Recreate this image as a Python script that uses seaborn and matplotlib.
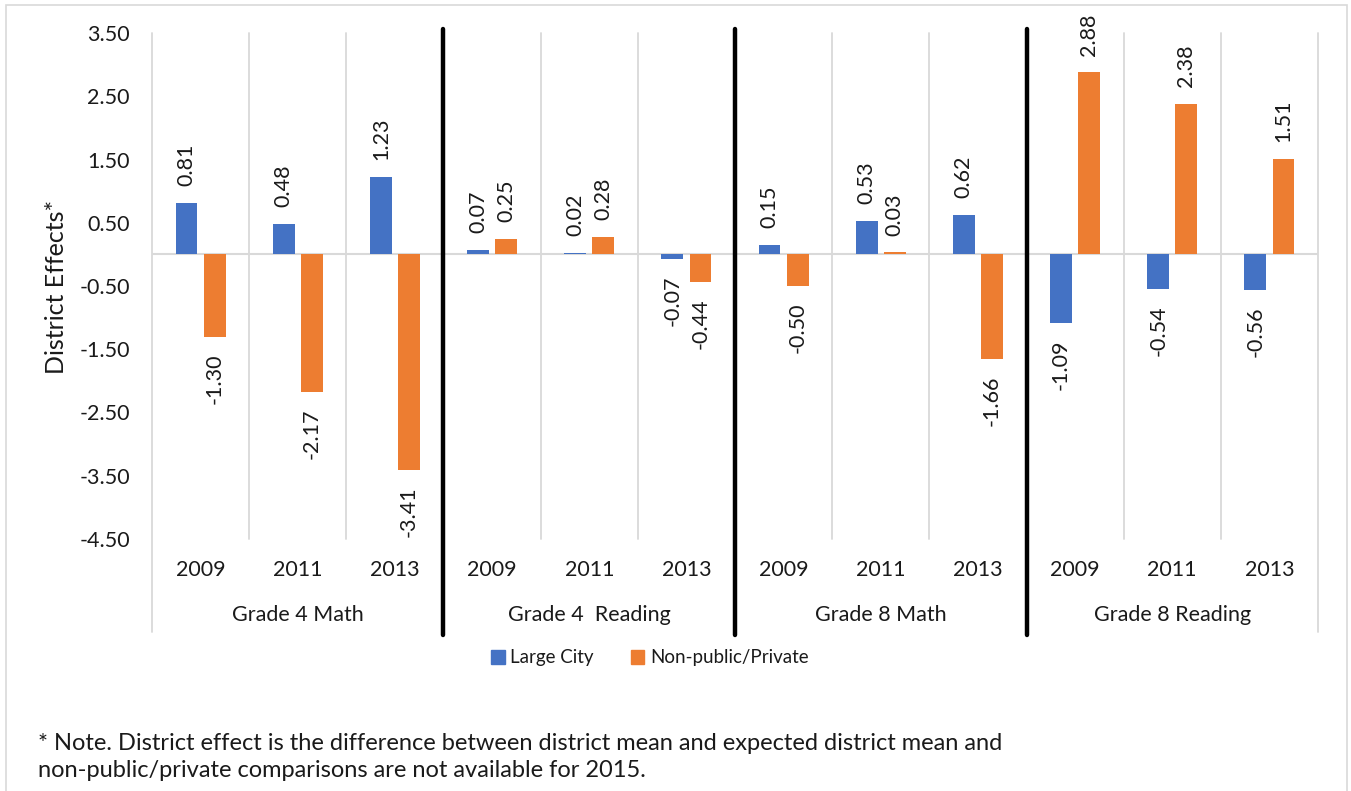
import matplotlib
matplotlib.use("Agg")
import matplotlib.pyplot as plt
import matplotlib.transforms as mtransforms
from matplotlib.patches import Rectangle
import seaborn as sns
import pandas as pd

# ---- data ----
groups = ["Grade 4 Math", "Grade 4  Reading", "Grade 8 Math", "Grade 8 Reading"]
years = ["2009", "2011", "2013"]
series = ["Large City", "Non-public/Private"]
large_city = [0.81, 0.48, 1.23, 0.07, 0.02, -0.07, 0.15, 0.53, 0.62, -1.09, -0.54, -0.56]
non_public = [-1.30, -2.17, -3.41, 0.25, 0.28, -0.44, -0.50, 0.03, -1.66, 2.88, 2.38, 1.51]
y_ticks = [3.5, 2.5, 1.5, 0.5, -0.5, -1.5, -2.5, -3.5, -4.5]
y_label = "District Effects*"
note = ("* Note. District effect is the difference between district mean and expected district mean and\n"
        "non-public/private comparisons are not available for 2015.")

colors = {"Large City": "#4472C4", "Non-public/Private": "#ED7D31"}

keys = [f"{g}|{y}" for g in groups for y in years]
rows = []
for i, k in enumerate(keys):
    rows.append({"cat": k, "series": series[0], "value": large_city[i]})
    rows.append({"cat": k, "series": series[1], "value": non_public[i]})
df = pd.DataFrame(rows)

sns.set_theme(style="white")
plt.rcParams["font.family"] = ["Lato", "DejaVu Sans"]
text_color = "#1a1a1a"
fs = 15.5

W, H = 1351, 791
fig = plt.figure(figsize=(W / 100, H / 100), dpi=100)
ax_l, ax_r, ax_t, ax_b = 152, 1318, 33, 539
ax = fig.add_axes([ax_l / W, 1 - ax_b / H, (ax_r - ax_l) / W, (ax_b - ax_t) / H])

sns.barplot(data=df, x="cat", y="value", hue="series", order=keys, hue_order=series,
            palette=colors, width=0.58, gap=0.22, ax=ax, legend=True, saturation=1,
            edgecolor="none", errorbar=None)

ax.set_xlim(-0.5, len(keys) - 0.5)
ax.set_ylim(-4.5, 3.5)
ax.set_yticks(y_ticks)
ax.set_yticklabels([f"{v:.2f}" for v in y_ticks], fontsize=fs, color=text_color)
ax.tick_params(axis="y", length=0, pad=16)
ax.set_xticks([])
ax.set_xlabel("")
ax.set_ylabel("")
for s in ax.spines.values():
    s.set_visible(False)

grid_c = "#D9D9D9"
trans = mtransforms.blended_transform_factory(ax.transData, ax.transAxes)
low = -(632 - ax_b) / (ax_b - ax_t)
for i in range(len(keys) + 1):
    x = i - 0.5
    y0 = low if i % 3 == 0 else 0
    ax.plot([x, x], [y0, 1], color=grid_c, lw=1.3, transform=trans, clip_on=False, zorder=0)
ax.axhline(0, color=grid_c, lw=1.5, zorder=0.5)

# thick black separators
blow = -(635 - ax_b) / (ax_b - ax_t)
for gi in range(1, len(groups)):
    x = gi * 3 - 0.5
    ax.plot([x, x], [blow, 1.007], color="black", lw=3.2, transform=trans, clip_on=False, zorder=5)

# data labels
for cont in ax.containers:
    ax.bar_label(cont, fmt="%.2f", rotation=90, padding=12, fontsize=fs, color=text_color)

# year and group labels
yr_y = -(570 - ax_b) / (ax_b - ax_t)
gr_y = -(615 - ax_b) / (ax_b - ax_t)
for i, k in enumerate(keys):
    ax.text(i, yr_y, k.split("|")[1], transform=trans, ha="center", va="center",
            fontsize=fs, color=text_color)
for gi, g in enumerate(groups):
    ax.text(gi * 3 + 1, gr_y, g, transform=trans, ha="center", va="center",
            fontsize=fs, color=text_color)

# legend
ax.get_legend().remove()
handles = [Rectangle((0, 0), 1, 1, color=colors[s]) for s in series]
fig.legend(handles, series, loc="center", bbox_to_anchor=(650 / W, 1 - 658 / H), ncol=2,
           frameon=False, fontsize=13.5, handlelength=0.7, handleheight=0.7,
           handletextpad=0.3, columnspacing=2.0, labelcolor=text_color)

fig.text(57 / W, 1 - 287 / H, y_label, rotation=90, ha="center", va="center",
         fontsize=18, color=text_color)

fig.text(38 / W, 1 - 757 / H, note, ha="left", va="center", fontsize=17,
         color=text_color, linespacing=1.3)

# outer border
fig.patches.append(Rectangle((6 / W, -0.01), (1347 - 6) / W, 1 - 5 / H + 0.01,
                             transform=fig.transFigure, fill=False, edgecolor="#D9D9D9", lw=1.2))

fig.savefig("out.png", dpi=100)
